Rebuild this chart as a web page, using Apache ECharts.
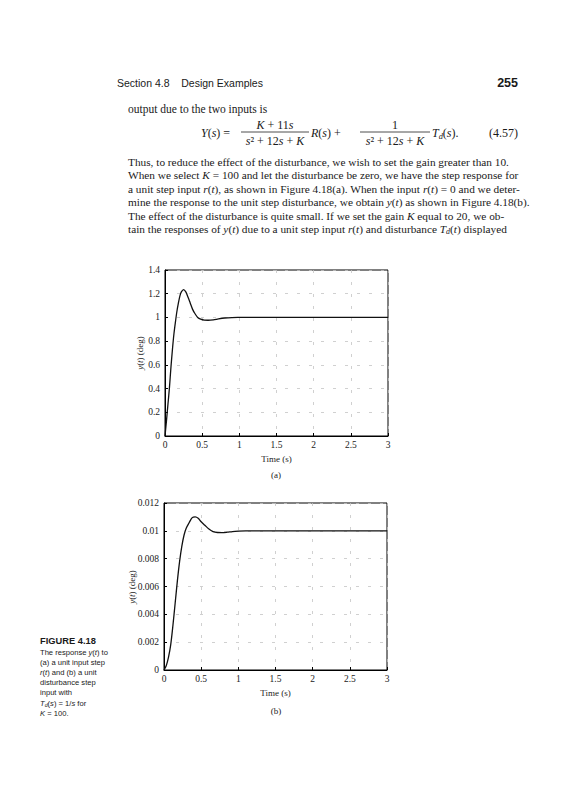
<!DOCTYPE html>
<html>
<head>
<meta charset="utf-8">
<script src="https://cdn.jsdelivr.net/npm/echarts@6/dist/echarts.min.js"></script>
<style>
  html, body { margin: 0; padding: 0; background: #fff; }
  #page { width: 569px; height: 800px; }
</style>
</head>
<body>
<div id="page"></div>
<script>
// (a) response to unit step input r(t), K = 100
const timeA = [0, 0.02, 0.04, 0.06, 0.08, 0.1, 0.12, 0.14, 0.16, 0.18, 0.2, 0.22, 0.25, 0.28, 0.31, 0.34, 0.37, 0.4, 0.44, 0.48, 0.53, 0.58, 0.65, 0.72, 0.8, 0.9, 1.0, 1.2, 1.5, 2.0, 2.5, 3.0];
const respA = [0, 0.13, 0.27, 0.41, 0.58, 0.73, 0.86, 0.96, 1.05, 1.12, 1.18, 1.215, 1.235, 1.215, 1.17, 1.12, 1.07, 1.035, 1.0, 0.985, 0.977, 0.976, 0.98, 0.988, 0.995, 0.999, 1.0, 1.001, 1.0, 1.0, 1.0, 1.0];

// (b) response to unit step disturbance Td(s) = 1/s
const timeB = [0, 0.03, 0.06, 0.09, 0.12, 0.15, 0.18, 0.21, 0.24, 0.27, 0.3, 0.34, 0.38, 0.42, 0.46, 0.5, 0.55, 0.6, 0.66, 0.72, 0.78, 0.85, 0.92, 1.0, 1.1, 1.25, 1.5, 2.0, 2.5, 3.0];
const respB = [0, 0.0003, 0.0009, 0.0018, 0.0032, 0.0048, 0.0064, 0.0078, 0.0089, 0.0097, 0.0102, 0.0106, 0.01095, 0.0110, 0.0109, 0.01065, 0.0104, 0.01015, 0.00995, 0.00988, 0.00987, 0.0099, 0.00995, 0.00998, 0.01, 0.01, 0.01, 0.01, 0.01, 0.01];

const xRange = { min: 0, max: 3, interval: 0.5 };
const yRangeA = { min: 0, max: 1.4, interval: 0.2 };
const yRangeB = { min: 0, max: 0.012, interval: 0.002 };

const serif = '"Liberation Serif", "DejaVu Serif", serif';
const sans = '"Liberation Sans", Arial, sans-serif';

function txt(x, y, text, o) {
  o = o || {};
  var fam = o.family || serif, size = o.size || 11.5;
  return {
    type: 'text', x: x, y: y, silent: true,
    rotation: o.rotation || 0,
    style: {
      text: text,
      fontFamily: fam,
      fontSize: size,
      fontWeight: o.weight || 'normal',
      fontStyle: o.style || 'normal',
      fill: o.color || '#1a1a1a',
      textAlign: o.align || 'left',
      textVerticalAlign: 'middle',
      rich: {
        i: { fontStyle: 'italic', fontFamily: fam, fontSize: size },
        s: { fontSize: size * 0.7, fontFamily: fam, fontStyle: 'italic', padding: [size * 0.5, 0, 0, 0] }
      }
    }
  };
}
function hline(x1, x2, y) {
  return { type: 'line', silent: true, shape: { x1: x1, y1: y, x2: x2, y2: y }, style: { stroke: '#222', lineWidth: 0.8 } };
}

const bodyLines = [
  'Thus, to reduce the effect of the disturbance, we wish to set the gain greater than 10.',
  'When we select {i|K} = 100 and let the disturbance be zero, we have the step response for',
  'a unit step input {i|r}({i|t}), as shown in Figure 4.18(a). When the input {i|r}({i|t}) = 0 and we deter-',
  'mine the response to the unit step disturbance, we obtain {i|y}({i|t}) as shown in Figure 4.18(b).',
  'The effect of the disturbance is quite small. If we set the gain {i|K} equal to 20, we ob-',
  'tain the responses of {i|y}({i|t}) due to a unit step input {i|r}({i|t}) and disturbance {i|T}{s|d}({i|t}) displayed'
];
const captionLines = [
  'The response {i|y}({i|t}) to',
  '(a) a unit input step',
  '{i|r}({i|t}) and (b) a unit',
  'disturbance step',
  'input with',
  '{i|T}{s|d}({i|s}) = 1/{i|s} for',
  '{i|K} = 100.'
];

const graphics = [];
graphics.push(txt(117, 83, 'Section 4.8    Design Examples', { family: sans, size: 10.5 }));
graphics.push(txt(518, 83, '255', { family: sans, size: 12.5, weight: 'bold', align: 'right' }));
graphics.push(txt(128, 109, 'output due to the two inputs is'));
// equation (4.57)
graphics.push(txt(201, 133, '{i|Y}({i|s}) =', { size: 12 }));
graphics.push(txt(275, 125, '{i|K} + 11{i|s}', { align: 'center', size: 12 }));
graphics.push(hline(241, 309, 132));
graphics.push(txt(275, 141, '{i|s}² + 12{i|s} + {i|K}', { align: 'center', size: 12 }));
graphics.push(txt(311, 133, '{i|R}({i|s}) +', { size: 12 }));
graphics.push(txt(395, 125, '1', { align: 'center', size: 12 }));
graphics.push(hline(360, 430, 132));
graphics.push(txt(395, 141, '{i|s}² + 12{i|s} + {i|K}', { align: 'center', size: 12 }));
graphics.push(txt(432, 133, '{i|T}{s|d}({i|s}).', { size: 12 }));
graphics.push(txt(518, 133, '(4.57)', { align: 'right', size: 12 }));
bodyLines.forEach(function (l, i) {
  graphics.push(txt(128, 162 + i * 13.4, l, { size: 11.3 }));
});
// rotated y-axis titles
graphics.push(txt(140, 353, '{i|y}({i|t}) (deg)', { size: 9, align: 'center', rotation: Math.PI / 2 }));
graphics.push(txt(132, 587, '{i|y}({i|t}) (deg)', { size: 9, align: 'center', rotation: Math.PI / 2 }));
graphics.push(txt(276, 475, '(a)', { size: 9, align: 'center' }));
graphics.push(txt(276, 711, '(b)', { size: 9, align: 'center' }));
graphics.push(txt(40, 641, 'FIGURE 4.18', { family: sans, size: 9.3, weight: 'bold' }));
captionLines.forEach(function (l, i) {
  graphics.push(txt(40, 652 + i * 10.2, l, { family: sans, size: 7.6 }));
});

function xAxisFor(gridIndex) {
  return {
    type: 'value', gridIndex: gridIndex,
    min: xRange.min, max: xRange.max, interval: xRange.interval,
    name: 'Time (s)', nameLocation: 'middle', nameGap: 18,
    nameTextStyle: { fontFamily: serif, fontSize: 9, color: '#222' },
    axisLine: { lineStyle: { color: '#000', width: 1 } },
    axisTick: { inside: true, length: 3, lineStyle: { color: '#000' } },
    axisLabel: { fontFamily: serif, fontSize: 9.5, color: '#222', margin: 4 },
    splitLine: { show: true, lineStyle: { color: '#c4c4c4', type: [3, 9], width: 0.8 } }
  };
}
function yAxisFor(gridIndex, r) {
  return {
    type: 'value', gridIndex: gridIndex,
    min: r.min, max: r.max, interval: r.interval,
    axisLine: { lineStyle: { color: '#000', width: 1 } },
    axisTick: { inside: true, length: 3, lineStyle: { color: '#000' } },
    axisLabel: { fontFamily: serif, fontSize: 9.5, color: '#222', margin: 5 },
    splitLine: { show: true, lineStyle: { color: '#c4c4c4', type: [3, 9], width: 0.8 } }
  };
}

const chart = echarts.init(document.getElementById('page'), null, { renderer: 'svg' });
chart.setOption({
  animation: false,
  backgroundColor: '#fff',
  grid: [
    { left: 165, top: 270, width: 223, height: 166, show: true, borderColor: '#000', borderWidth: 1 },
    { left: 164, top: 503, width: 223, height: 167, show: true, borderColor: '#000', borderWidth: 1 }
  ],
  xAxis: [xAxisFor(0), xAxisFor(1)],
  yAxis: [yAxisFor(0, yRangeA), yAxisFor(1, yRangeB)],
  series: [
    {
      type: 'line', xAxisIndex: 0, yAxisIndex: 0,
      data: timeA.map(function (t, i) { return [t, respA[i]]; }),
      showSymbol: false, smooth: 0.3,
      lineStyle: { color: '#111', width: 1.3 }
    },
    {
      type: 'line', xAxisIndex: 1, yAxisIndex: 1,
      data: timeB.map(function (t, i) { return [t, respB[i]]; }),
      showSymbol: false, smooth: 0.3,
      lineStyle: { color: '#111', width: 1.3 }
    }
  ],
  graphic: graphics
});
</script>
</body>
</html>
